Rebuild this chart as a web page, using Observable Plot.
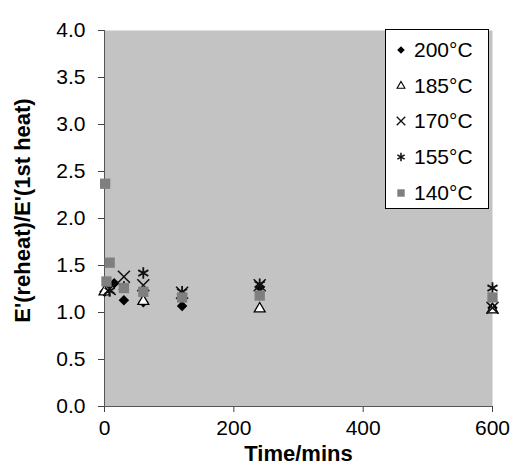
<!DOCTYPE html>
<html>
<head>
<meta charset="utf-8">
<script src="https://cdn.jsdelivr.net/npm/d3@7"></script>
<script src="https://cdn.jsdelivr.net/npm/@observablehq/plot@0.6"></script>
<style>
  body { margin: 0; background: #fff; }
  #wrap { position: relative; width: 515px; height: 472px; font-family: "Liberation Sans", Arial, sans-serif; }
  #legend {
    position: absolute; left: 385px; top: 29px; width: 102px; height: 176px;
    background: #fff; border: 1px solid #000; padding-top: 2px; box-sizing: content-box;
  }
  .row { display: flex; align-items: center; height: 35.8px; font-size: 21px; color: #000; }
  .row svg { margin-left: 9px; margin-right: 7px; }
</style>
</head>
<body>
<div id="wrap"></div>
<script>
// Ratio of storage modulus after reheating to the first heat, by hold time
const series = ["200°C", "185°C", "170°C", "155°C", "140°C"];

const time200 = [0, 15, 30, 60, 120, 240, 600];
const ratio200 = [1.22, 1.31, 1.13, 1.11, 1.07, 1.27, 1.05];

const time185 = [0, 60, 240, 600];
const ratio185 = [1.22, 1.12, 1.04, 1.03];

const time170 = [8, 30, 60, 120, 240, 600];
const ratio170 = [1.25, 1.38, 1.29, 1.21, 1.29, 1.05];

const time155 = [8, 30, 60, 120, 240, 600];
const ratio155 = [1.23, 1.27, 1.42, 1.22, 1.30, 1.26];

const time140 = [1, 3, 8, 30, 60, 120, 240, 600];
const ratio140 = [2.37, 1.33, 1.53, 1.26, 1.22, 1.16, 1.18, 1.16];

const xTicks = [0, 200, 400, 600];
const yTicks = [0, 0.5, 1, 1.5, 2, 2.5, 3, 3.5, 4];

const rows = (name, ts, vs) => ts.map((t, i) => ({series: name, time: t, ratio: vs[i]}));
const d200 = rows(series[0], time200, ratio200);
const d185 = rows(series[1], time185, ratio185);
const d170 = rows(series[2], time170, ratio170);
const d155 = rows(series[3], time155, ratio155);
const d140 = rows(series[4], time140, ratio140);

// marker style for each series (drawn in this order)
const styles = [
  {symbol: "square", rotate: 45, fill: "#000", stroke: "none", r: 4.2},
  {symbol: "triangle2", fill: "#fff", stroke: "#000", strokeWidth: 1.3, r: 5.2},
  {symbol: "times", fill: "none", stroke: "#111", strokeWidth: 1.6, r: 5.5},
  {symbol: "asterisk", fill: "none", stroke: "#111", strokeWidth: 1.8, r: 5.5},
  {symbol: "square", fill: "#7f7f7f", stroke: "none", r: 5.8}
];
const datasets = [d200, d185, d170, d155, d140];

const chart = Plot.plot({
  width: 515,
  height: 472,
  marginLeft: 104,
  marginRight: 23,
  marginTop: 30,
  marginBottom: 66,
  style: {fontFamily: "'Liberation Sans', Arial, sans-serif", fontSize: "21px", color: "#000", background: "#fff"},
  x: {domain: [0, 600]},
  y: {domain: [0, 4]},
  marks: [
    Plot.frame({fill: "#c3c3c3", stroke: null}),
    Plot.axisY({ticks: yTicks, tickFormat: d3.format(".1f"), tickSize: 6, tickPadding: 13, stroke: "#444", label: null}),
    Plot.axisX({ticks: xTicks, tickSize: 6, tickPadding: 8, stroke: "#444", label: null}),
    Plot.ruleX([0], {stroke: "#555"}),
    Plot.ruleY([0], {stroke: "#555"}),
    ...datasets.map((d, i) => Plot.dot(d, {x: "time", y: "ratio", ...styles[i]})),
    Plot.text(["E'(reheat)/E'(1st heat)"], {frameAnchor: "left", textAnchor: "middle", rotate: -90, dx: -82, dy: -8, fontWeight: "bold", fontSize: 22}),
    Plot.text(["Time/mins"], {frameAnchor: "bottom", dy: 54, fontWeight: "bold", fontSize: 22})
  ]
});

const wrap = document.getElementById("wrap");
wrap.appendChild(chart);

// legend box
const legend = document.createElement("div");
legend.id = "legend";
const symbolTypes = {
  triangle2: d3.symbolTriangle2, times: d3.symbolTimes,
  asterisk: d3.symbolAsterisk, square: d3.symbolSquare
};
series.forEach((name, i) => {
  const st = styles[i];
  const row = document.createElement("div");
  row.className = "row";
  const svg = d3.create("svg").attr("width", 12).attr("height", 12).attr("viewBox", "-6 -6 12 12");
  svg.append("path")
    .attr("d", d3.symbol(symbolTypes[st.symbol], Math.PI * (st.r * 0.72) ** 2)())
    .attr("transform", st.rotate ? `rotate(${st.rotate})` : null)
    .attr("fill", st.fill)
    .attr("stroke", st.stroke)
    .attr("stroke-width", st.strokeWidth ? st.strokeWidth * 0.85 : 0);
  row.appendChild(svg.node());
  const label = document.createElement("span");
  label.textContent = name;
  row.appendChild(label);
  legend.appendChild(row);
});
wrap.appendChild(legend);
</script>
</body>
</html>
